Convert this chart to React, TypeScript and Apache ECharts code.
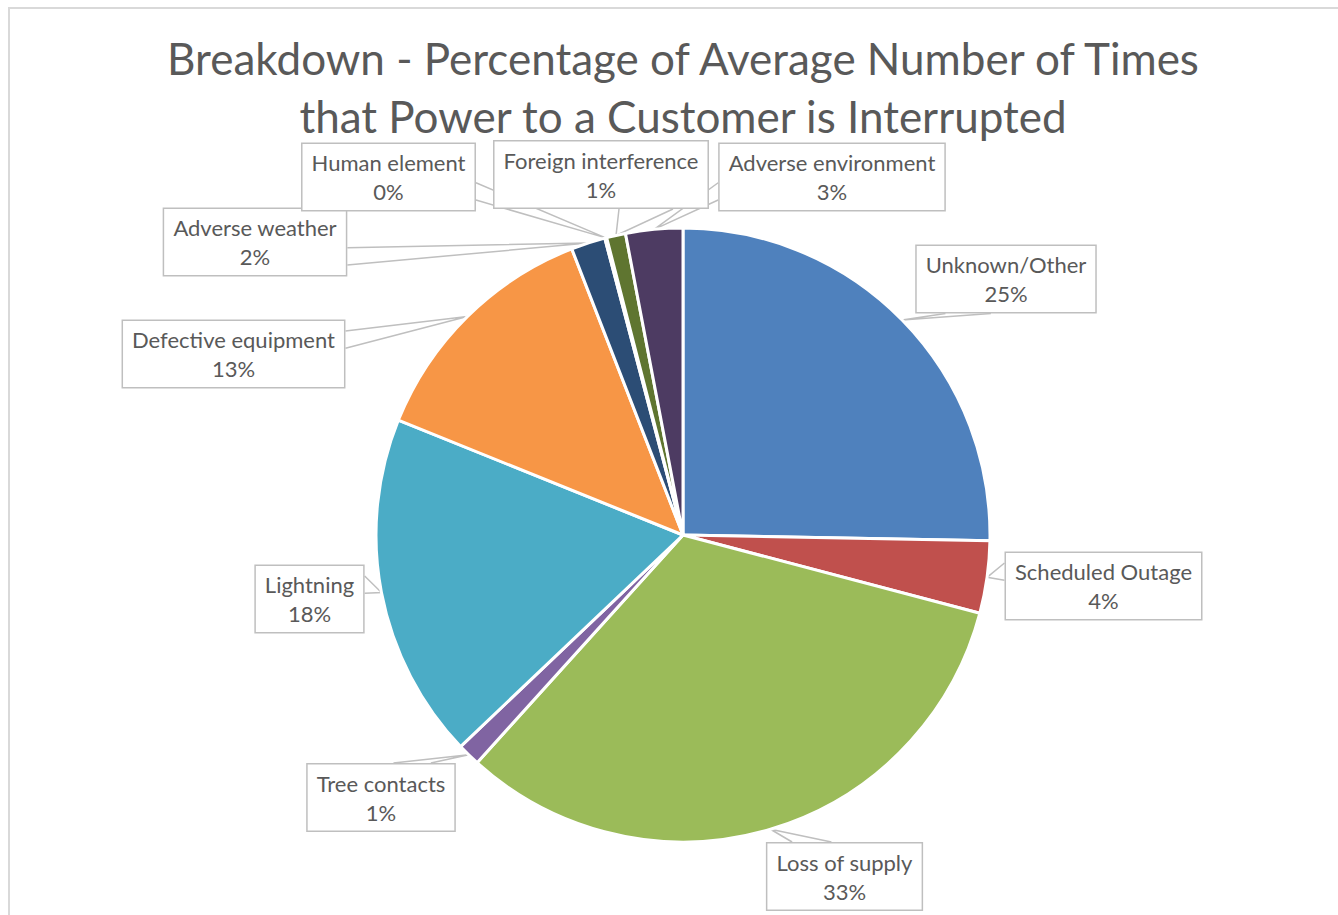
import React, { useEffect, useRef } from "react";
import * as echarts from "echarts";

// ---- data ----
const categories = [
  "Unknown/Other",
  "Scheduled Outage",
  "Loss of supply",
  "Tree contacts",
  "Lightning",
  "Defective equipment",
  "Adverse weather",
  "Human element",
  "Foreign interference",
  "Adverse environment",
];
const shares = [25.3, 3.8, 32.6, 1.2, 18.2, 13.0, 1.8, 0.1, 1.0, 3.0];
const sliceColors = [
  "#4F81BD",
  "#C0504D",
  "#9BBB59",
  "#8064A2",
  "#4BACC6",
  "#F79646",
  "#2C4D75",
  "#772C2A",
  "#5F7530",
  "#4D3B62",
];
const titleLines = [
  "Breakdown - Percentage of Average Number of Times",
  "that Power to a Customer is Interrupted",
];

// ---- layout (positions of the callout boxes, pointer side) ----
const labelCentres: [number, number][] = [
  [1006, 279],
  [1103.5, 586],
  [844.5, 876.5],
  [381, 797.5],
  [309.5, 599],
  [233.5, 354],
  [255, 242],
  [388.5, 177],
  [601, 174.5],
  [832, 177],
];
const pointerSides = ["bottom", "left", "top", "top", "right", "right", "right", "right", "bottom", "left"];

const PIE_CX = 683;
const PIE_CY = 535;
const PIE_R = 307;
const FONT = "Lato, 'Open Sans', sans-serif";
const GREY_TEXT = "#595959";
const GREY_LINE = "#BFBFBF";

function fallbackTip(i: number): number[] {
  const total = shares.reduce((a, b) => a + b, 0);
  let before = 0;
  for (let k = 0; k < i; k++) before += shares[k];
  const mid = ((before + shares[i] / 2) / total) * Math.PI * 2;
  return [PIE_CX + PIE_R * Math.sin(mid), PIE_CY - PIE_R * Math.cos(mid)];
}

export default function App() {
  const ref = useRef<HTMLDivElement>(null);

  useEffect(() => {
    if (!ref.current) return;
    const chart = echarts.init(ref.current, null, { renderer: "svg" });

    const option: any = {
      animation: false,
      backgroundColor: "#ffffff",
      title: {
        text: titleLines.join("\n"),
        left: PIE_CX,
        top: 29,
        padding: 0,
        textAlign: "center",
        textStyle: {
          fontFamily: FONT,
          fontSize: 44,
          fontWeight: "normal",
          color: GREY_TEXT,
          lineHeight: 58,
        },
      },
      graphic: [
        {
          type: "rect",
          silent: true,
          shape: { x: 9, y: 8, width: 1400, height: 1000 },
          style: { fill: "none", stroke: "#D9D9D9", lineWidth: 2 },
        },
      ],
      series: [
        {
          type: "pie",
          center: [PIE_CX, PIE_CY],
          radius: PIE_R,
          startAngle: 90,
          clockwise: true,
          avoidLabelOverlap: false,
          silent: true,
          data: categories.map((name, i) => ({
            name,
            value: shares[i],
            itemStyle: { color: sliceColors[i] },
          })),
          itemStyle: { borderColor: "#ffffff", borderWidth: 3 },
          label: {
            show: true,
            position: "outside",
            formatter: (p: any) => `${p.name}\n${Math.round(p.percent)}%`,
            fontFamily: FONT,
            fontSize: 22,
            lineHeight: 29,
            color: GREY_TEXT,
            align: "center",
            backgroundColor: "#ffffff",
            borderColor: GREY_LINE,
            borderWidth: 1.5,
            padding: [4, 9, 4, 9],
          },
          labelLine: {
            show: true,
            lineStyle: { color: GREY_LINE, width: 1.5 },
          },
          labelLayout: (params: any) => {
            const i = params.dataIndex;
            const [cx, cy] = labelCentres[i];
            const w = params.labelRect.width;
            const h = params.labelRect.height;
            const left = cx - w / 2;
            const top = cy - h / 2;
            const tip =
              params.labelLinePoints && params.labelLinePoints[0]
                ? params.labelLinePoints[0]
                : fallbackTip(i);
            const side = pointerSides[i];
            let a: number[];
            let b: number[];
            if (side === "top" || side === "bottom") {
              const lo = tip[0] < cx;
              const f1 = lo ? 1 / 6 : 7 / 12;
              const f2 = lo ? 5 / 12 : 5 / 6;
              const y = side === "top" ? top : top + h;
              a = [left + w * f1, y];
              b = [left + w * f2, y];
            } else {
              const lo = tip[1] < cy;
              const f1 = lo ? 1 / 6 : 7 / 12;
              const f2 = lo ? 5 / 12 : 5 / 6;
              const x = side === "left" ? left : left + w;
              a = [x, top + h * f1];
              b = [x, top + h * f2];
            }
            return {
              x: cx,
              y: cy,
              align: "center",
              verticalAlign: "middle",
              labelLinePoints: [a, tip, b],
            };
          },
        },
      ],
    };

    chart.setOption(option);
    return () => {
      chart.dispose();
    };
  }, []);

  return (
    <div
      ref={ref}
      style={{ position: "absolute", left: 0, top: 0, width: 1338, height: 915 }}
    />
  );
}
